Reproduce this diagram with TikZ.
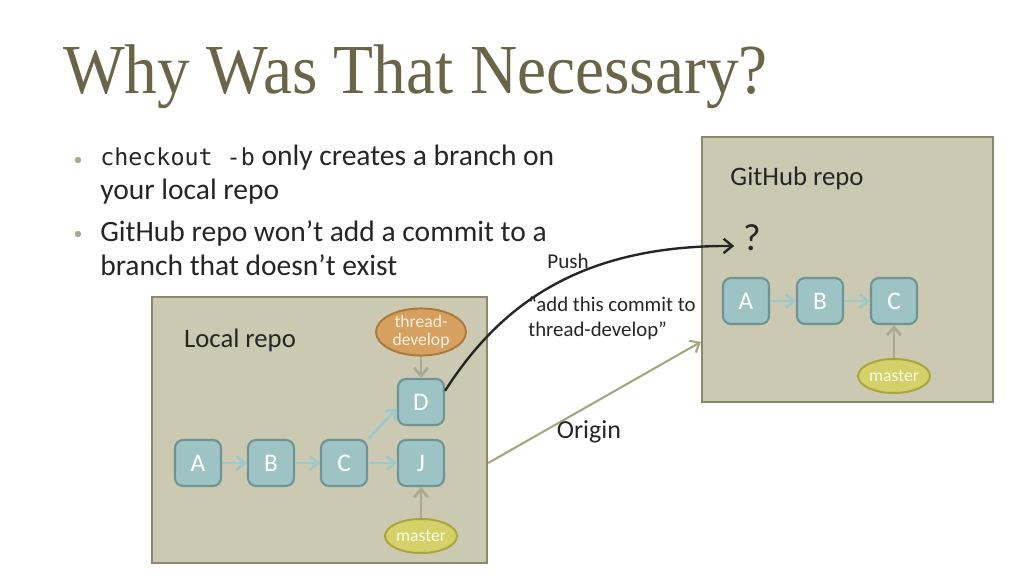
\documentclass[tikz,border=0pt]{standalone}
\usepackage{fontspec}
\setmainfont{Carlito}
\setmonofont{DejaVu Sans Mono}
\newfontfamily\titlefont[FakeStretch=0.93]{Liberation Serif}
\usetikzlibrary{arrows.meta, shapes.geometric}

\definecolor{titlecol}{RGB}{106,100,72}
\definecolor{textcol}{RGB}{38,38,38}
\definecolor{bulletcol}{RGB}{164,170,140}
\definecolor{boxfill}{RGB}{204,201,178}
\definecolor{boxline}{RGB}{138,137,110}
\definecolor{commitfill}{RGB}{157,195,196}
\definecolor{commitline}{RGB}{110,148,150}
\definecolor{commitarrow}{RGB}{156,200,204}
\definecolor{branchfill}{RGB}{214,160,96}
\definecolor{branchline}{RGB}{168,123,62}
\definecolor{masterfill}{RGB}{212,208,106}
\definecolor{masterline}{RGB}{169,164,62}
\definecolor{ptrarrow}{RGB}{173,169,145}
\definecolor{originarrow}{RGB}{163,168,126}

\pgfdeclareradialshading{slidebg}{\pgfpoint{0bp}{0bp}}{color(0bp)=(white); color(36bp)=(white); color(50bp)=(black!13)}

\begin{document}
\begin{tikzpicture}[x=0.25mm, y=-0.25mm,
  repo/.style={draw=boxline, fill=boxfill, line width=1.6pt, inner sep=0pt},
  commit/.style={draw=commitline, fill=commitfill, line width=1.5pt, rounded corners=2mm,
    minimum size=11.5mm, inner sep=0pt, text=white, font=\fontsize{18}{20}\selectfont},
  branchptr/.style={ellipse, draw=branchline, fill=branchfill, line width=1.4pt, inner sep=0pt,
    minimum width=22.5mm, minimum height=11.5mm, align=center, text={rgb,255:red,250;green,242;blue,226},
    font=\fontsize{12.5}{13}\selectfont},
  masterptr/.style={ellipse, draw=masterline, fill=masterfill, line width=1.4pt, inner sep=0pt,
    minimum width=18mm, minimum height=8.5mm, text={rgb,255:red,250;green,250;blue,230},
    font=\fontsize{12.5}{13}\selectfont},
  commitedge/.style={draw=commitarrow, line width=2pt, -{Straight Barb[length=2mm, width=3.4mm]}},
  ptredge/.style={draw=ptrarrow, line width=2pt, -{Straight Barb[length=2mm, width=3.4mm]}},
  bodytext/.style={text=textcol, inner sep=0pt, align=left, font=\fontsize{21}{24.2}\selectfont},
  boxlabel/.style={text=textcol, font=\fontsize{19}{22}\selectfont}
]

% slide background
\useasboundingbox (0,0) rectangle (1024,576);
\begin{scope}
  \clip (0,0) rectangle (1024,576);
  \shade[shading=slidebg] (512,288) circle[radius=150mm];
\end{scope}

% title
\node[anchor=base west, inner sep=0pt, text=titlecol, font=\titlefont\fontsize{50}{52}\selectfont]
  (title) at (63,93) {Why Was That Necessary?};

% bullets
\fill[bulletcol] (78,160) circle[radius=0.8mm];
\fill[bulletcol] (78,234) circle[radius=0.8mm];
\node[bodytext, anchor=north west] (bullet1) at (100,145)
  {{\ttfamily\fontsize{16.6}{24.2}\selectfont checkout -b} only creates a branch on\\your local repo};
\node[bodytext, anchor=north west] (bullet2) at (100,220)
  {GitHub repo won’t add a commit to a\\branch that doesn’t exist};

% the two repos
\node[repo, minimum width=83.75mm, minimum height=66.5mm] (local) at (319.5,430) {};
\node[repo, minimum width=72.75mm, minimum height=66.25mm] (gh) at (847.5,269.5) {};
\node[boxlabel] (loclbl) at (240,340) {Local repo};
\node[boxlabel] (ghlbl) at (797,178) {GitHub repo};
\node[text=textcol, font=\fontsize{27}{29}\selectfont] (qm) at (752,238) {?};

% local commits
\foreach \n/\x in {A/198, B/271, C/344, J/421}
  \node[commit] (l\n) at (\x,463) {\n};
\node[commit] (lD) at (421,402) {D};
\node[branchptr] (ltd) at (421,332) {thread-\\develop};
\node[masterptr] (lmaster) at (421,536) {master};

\draw[commitedge] (lA) -- (lB);
\draw[commitedge] (lB) -- (lC);
\draw[commitedge] (lC) -- (lJ);
\draw[commitedge] (lC.45) -- (lD.195);
\draw[ptredge] (ltd) -- (lD);
\draw[ptredge] (lmaster) -- (lJ);

% github commits
\foreach \n/\x in {A/746, B/820, C/894}
  \node[commit] (g\n) at (\x,301) {\n};
\node[masterptr] (gmaster) at (894,376) {master};

\draw[commitedge] (gA) -- (gB);
\draw[commitedge] (gB) -- (gC);
\draw[ptredge] (gmaster) -- (gC);

% push and origin
\draw[black!85, line width=1.7pt, -{Straight Barb[length=2.2mm, width=3.6mm]}]
  (lD.25) .. controls (500,305) and (580,245) .. ([shift={(-1mm,-2mm)}]qm.west);
\node[text=textcol, font=\fontsize{15}{17}\selectfont] (pushlbl) at (568,261) {Push};
\node[text=textcol, inner sep=0pt, align=left, anchor=west, font=\fontsize{14.8}{17.5}\selectfont]
  (quote) at (528,318) {“add this commit to\\thread-develop”};

\draw[originarrow, line width=1.5pt, -{Straight Barb[length=2mm, width=3.4mm]}]
  (local.east |- lJ) -- ([yshift=-18.1mm]gh.west);
\node[text=textcol, font=\fontsize{18.5}{21}\selectfont] (originlbl) at (589,432) {Origin};

\end{tikzpicture}
\end{document}
